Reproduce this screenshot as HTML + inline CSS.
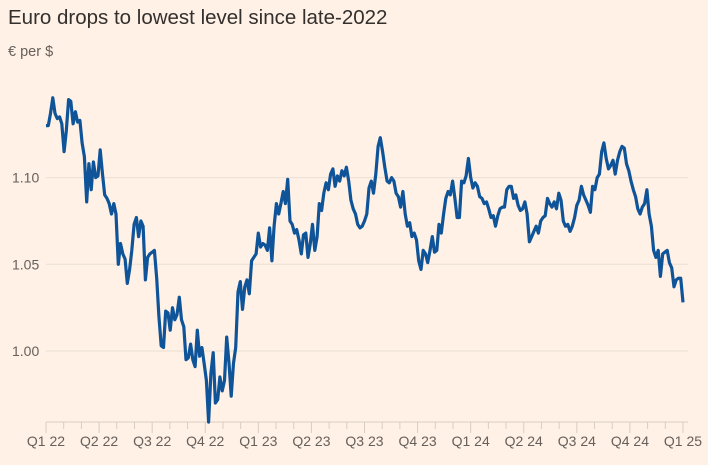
<!DOCTYPE html>
<html><head><meta charset="utf-8">
<style>
html,body{margin:0;padding:0;background:#fff1e5;}
body{width:708px;height:460px;overflow:hidden;font-family:"Liberation Sans",sans-serif;}
</style></head>
<body>
<svg width="708" height="460" xmlns="http://www.w3.org/2000/svg">
<rect width="708" height="460" fill="#fff1e5"/>
<text x="8" y="24" font-size="20.5" fill="#33302e">Euro drops to lowest level since late-2022</text>
<text x="8" y="56" font-size="14.5" fill="#66605c">€ per $</text>
<g id="grid"></g>
<g id="xaxis"></g>
<g id="series"></g>
</svg>
<script>
const yTicks = [1.00, 1.05, 1.10];
const yTickLabels = ["1.00", "1.05", "1.10"];
const quarterLabels = ["Q1 22","Q2 22","Q3 22","Q4 22","Q1 23","Q2 23","Q3 23","Q4 23","Q1 24","Q2 24","Q3 24","Q4 24","Q1 25"];
const rates2022to23 = [1.130,1.130,1.137,1.146,1.137,1.134,1.135,1.131,1.115,1.127,1.145,1.144,1.131,1.138,1.132,1.133,1.120,1.112,1.086,1.108,1.093,1.109,1.100,1.101,1.116,1.102,1.090,1.088,1.085,1.079,1.085,1.079,1.050,1.062,1.056,1.053,1.039,1.047,1.058,1.073,1.077,1.066,1.075,1.072,1.041,1.054,1.056,1.057,1.058,1.042,1.020,1.003,1.002,1.023,1.022,1.012,1.025,1.018,1.021,1.031,1.018,1.014,0.995,0.996,1.004,0.995,0.991,1.012,0.997,1.002,0.993,0.983,0.959,0.987,0.999,0.970,0.972,0.985,0.977,0.983,1.008,0.993,0.974,0.993,1.002,1.034,1.040,1.024,1.037,1.041,1.033,1.052,1.054,1.056,1.068,1.060,1.062,1.061,1.058,1.071,1.052,1.072,1.085,1.079,1.085,1.092,1.085,1.099,1.075,1.073,1.068,1.070,1.064,1.056,1.067,1.068,1.054,1.062,1.073,1.058,1.066,1.085,1.081,1.091,1.097,1.093,1.102,1.105,1.095,1.101,1.098,1.104,1.101,1.106,1.098,1.087,1.082,1.079,1.073,1.071,1.072,1.075,1.079,1.094,1.098,1.091];
const rates2023to25 = [1.102,1.118,1.123,1.115,1.106,1.098,1.097,1.100,1.098,1.091,1.089,1.083,1.092,1.079,1.072,1.074,1.066,1.068,1.064,1.052,1.047,1.058,1.056,1.051,1.058,1.066,1.057,1.058,1.073,1.068,1.079,1.088,1.092,1.090,1.098,1.088,1.077,1.077,1.098,1.097,1.101,1.111,1.100,1.094,1.097,1.095,1.089,1.088,1.085,1.086,1.082,1.077,1.078,1.072,1.078,1.082,1.083,1.083,1.093,1.095,1.095,1.088,1.090,1.084,1.081,1.082,1.086,1.079,1.063,1.066,1.069,1.072,1.068,1.075,1.077,1.078,1.088,1.085,1.083,1.086,1.082,1.091,1.087,1.075,1.072,1.073,1.069,1.072,1.077,1.084,1.087,1.095,1.090,1.087,1.084,1.080,1.095,1.093,1.100,1.102,1.115,1.120,1.111,1.105,1.107,1.110,1.102,1.110,1.115,1.118,1.117,1.108,1.104,1.098,1.093,1.089,1.082,1.079,1.083,1.085,1.093,1.079,1.072,1.058,1.054,1.058,1.043,1.056,1.057,1.058,1.051,1.048,1.037,1.041,1.042,1.042,1.028];
const rates = rates2022to23.concat(rates2023to25);

const NS = "http://www.w3.org/2000/svg";
const X0 = 46, X1 = 683, plotRight = 688, baseY = 422;
const yScale = v => 351 - (v - 1.00) * 1734;
const qScale = q => X0 + q * (X1 - X0) / (quarterLabels.length - 1);
const iScale = i => X0 + i * (X1 - X0) / (rates.length - 1);

const grid = document.getElementById('grid');
yTicks.forEach((t, i) => {
  const l = document.createElementNS(NS, 'line');
  l.setAttribute('x1', X0); l.setAttribute('x2', plotRight);
  l.setAttribute('y1', yScale(t)); l.setAttribute('y2', yScale(t));
  l.setAttribute('stroke', '#eadfd5'); l.setAttribute('stroke-width', '1');
  
  
  grid.appendChild(l);
  const tx = document.createElementNS(NS, 'text');
  tx.setAttribute('x', 12); tx.setAttribute('y', yScale(t) + 5);
  tx.setAttribute('font-size', '14'); tx.setAttribute('fill', '#66605c');
  tx.textContent = yTickLabels[i];
  
  
  grid.appendChild(tx);
});

const xa = document.getElementById('xaxis');
const base = document.createElementNS(NS, 'line');
base.setAttribute('x1', X0); base.setAttribute('x2', plotRight);
base.setAttribute('y1', baseY); base.setAttribute('y2', baseY);
base.setAttribute('stroke', '#d8cdc3'); base.setAttribute('stroke-width', '1');


xa.appendChild(base);
for (let m = 0; m <= (quarterLabels.length - 1) * 3; m++) {
  const x = qScale(m / 3);
  const major = m % 3 === 0;
  const tk = document.createElementNS(NS, 'line');
  tk.setAttribute('x1', x); tk.setAttribute('x2', x);
  tk.setAttribute('y1', baseY); tk.setAttribute('y2', baseY + (major ? 11 : 7));
  tk.setAttribute('stroke', '#d8cdc3'); tk.setAttribute('stroke-width', '1');
  
  
  xa.appendChild(tk);
}
quarterLabels.forEach((lab, q) => {
  const tx = document.createElementNS(NS, 'text');
  tx.setAttribute('x', qScale(q)); tx.setAttribute('y', 446);
  tx.setAttribute('font-size', '14'); tx.setAttribute('fill', '#66605c');
  tx.setAttribute('text-anchor', 'middle');
  tx.textContent = lab;
  
  
  xa.appendChild(tx);
});

const s = document.getElementById('series');
const p = document.createElementNS(NS, 'path');
p.setAttribute('d', rates.map((v, i) => (i ? 'L' : 'M') + iScale(i).toFixed(1) + ',' + yScale(v).toFixed(1)).join(''));
p.setAttribute('fill', 'none'); p.setAttribute('stroke', '#0f5499');
p.setAttribute('stroke-width', '3.2'); p.setAttribute('stroke-linejoin', 'round');


s.appendChild(p);
</script>
</body></html>
